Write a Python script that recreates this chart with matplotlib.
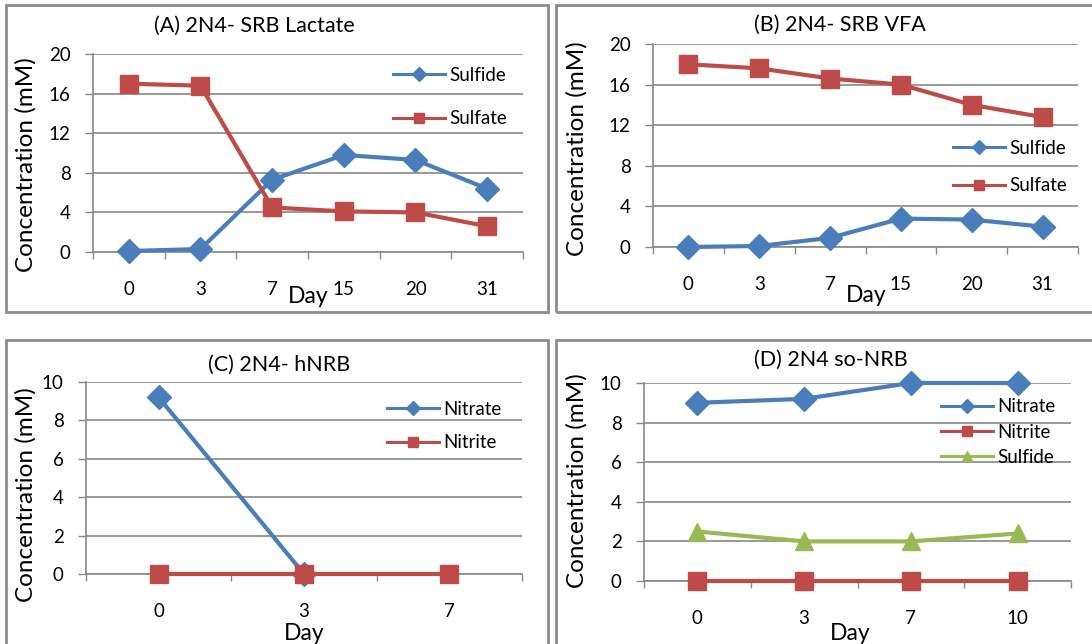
import numpy as np
import matplotlib
matplotlib.use('Agg')
import matplotlib.pyplot as plt
from matplotlib.lines import Line2D
from matplotlib.patches import Rectangle

plt.rcParams['font.family'] = ['Lato', 'DejaVu Sans']

# --- data ---
days_ab = ['0', '3', '7', '15', '20', '31']
sulfide_a = [0.1, 0.3, 7.3, 9.8, 9.3, 6.4]
sulfate_a = [17.0, 16.8, 4.5, 4.1, 4.0, 2.6]
sulfide_b = [0.0, 0.1, 0.9, 2.8, 2.7, 2.0]
sulfate_b = [18.0, 17.6, 16.6, 16.0, 14.0, 12.8]

days_c = ['0', '3', '7']
nitrate_c = [9.2, 0.0, np.nan]
nitrite_c = [0.0, 0.0, 0.0]

days_d = ['0', '3', '7', '10']
nitrate_d = [9.0, 9.2, 10.0, 10.0]
nitrite_d = [0.0, 0.0, 0.0, 0.0]
sulfide_d = [2.5, 2.0, 2.0, 2.4]

BLUE = '#4A7EBB'
RED = '#BE4B48'
GREEN = '#98B954'
GRID = '#878787'

W, H = 1092, 644
fig = plt.figure(figsize=(W / 100, H / 100), dpi=100)


def px_box(l, t, r, b):
    return [l / W, 1 - b / H, (r - l) / W, (b - t) / H]


# outer frames around each panel
for l, t, r, b in [(6, 5, 548, 312), (556, 5, 1096, 312),
                   (6, 340, 548, 650), (556, 340, 1096, 650)]:
    fig.patches.append(Rectangle((l / W, 1 - b / H), (r - l) / W, (b - t) / H,
                                 transform=fig.transFigure, fill=False,
                                 edgecolor='#8c8c8c', lw=2, clip_on=False))


def panel(rect, days, series, ymax, ystep, title, title_xy, ylab_xy, xlab_xy,
          leg_x, leg_y, leg_space):
    ax = fig.add_axes(px_box(*rect))
    x = np.arange(len(days))
    for name, vals, color, marker, ms in series:
        ax.plot(x, vals, color=color, lw=3, marker=marker, ms=ms,
                clip_on=False, zorder=3)
    ax.set_xlim(-0.5, len(days) - 0.5)
    ax.set_ylim(0, ymax)
    ax.set_yticks(np.arange(0, ymax + 0.1, ystep))
    ax.set_xticks(x)
    ax.set_xticklabels(days)
    ax.set_xticks(np.arange(-0.5, len(days)), minor=True)
    ax.tick_params(axis='x', which='major', length=0, pad=21, labelsize=13.5)
    ax.tick_params(axis='x', which='minor', length=5, color=GRID, width=1)
    ax.tick_params(axis='y', length=6, color=GRID, width=1, pad=10, labelsize=13.5)
    ax.grid(axis='y', color=GRID, lw=1.2)
    ax.set_axisbelow(True)
    for s in ['top', 'right']:
        ax.spines[s].set_visible(False)
    for s in ['left', 'bottom']:
        ax.spines[s].set_color(GRID)
        ax.spines[s].set_linewidth(1.2)

    fig.text(title_xy[0] / W, 1 - title_xy[1] / H, title, fontsize=15.5,
             ha='center', va='center')
    fig.text(ylab_xy[0] / W, 1 - ylab_xy[1] / H, 'Concentration (mM)',
             fontsize=17.5, rotation=90, ha='center', va='center')
    fig.text(xlab_xy[0] / W, 1 - xlab_xy[1] / H, 'Day', fontsize=16.5,
             ha='center', va='center')

    handles = [Line2D([], [], color=c, lw=2.2, marker=m, ms=ms * 0.6)
               for _, _, c, m, ms in series]
    ax.legend(handles, [s[0] for s in series], loc='center left',
              bbox_to_anchor=(leg_x / W, 1 - leg_y / H),
              bbox_transform=fig.transFigure, frameon=False, borderpad=0,
              borderaxespad=0, handlelength=2.75, handletextpad=0.25,
              labelspacing=leg_space, fontsize=13.5)
    return ax


panel((93, 54, 523, 252), days_ab,
      [('Sulfide', sulfide_a, BLUE, 'D', 12), ('Sulfate', sulfate_a, RED, 's', 13)],
      20, 4, '(A) 2N4- SRB Lactate', (254, 26), (26, 165), (308, 297),
      393, 97, 1.4)

panel((653, 44, 1078, 247), days_ab,
      [('Sulfide', sulfide_b, BLUE, 'D', 12), ('Sulfate', sulfate_b, RED, 's', 13)],
      20, 4, '(B) 2N4- SRB VFA', (840, 25), (577, 149), (866, 295),
      953, 167, 1.1)

panel((86, 382, 522, 574), days_c,
      [('Nitrate', nitrate_c, BLUE, 'D', 12), ('Nitrite', nitrite_c, RED, 's', 13)],
      10, 2, '(C) 2N4- hNRB', (279, 365), (26, 495), (304, 633),
      387, 426, 0.9)

panel((644, 383, 1071, 581), days_d,
      [('Nitrate', nitrate_d, BLUE, 'D', 12), ('Nitrite', nitrite_d, RED, 's', 13),
       ('Sulfide', sulfide_d, GREEN, '^', 13)],
      10, 2, '(D) 2N4 so-NRB', (831, 360), (577, 481), (850, 633),
      941, 432, 0.45)

fig.savefig('out.png', dpi=100)
